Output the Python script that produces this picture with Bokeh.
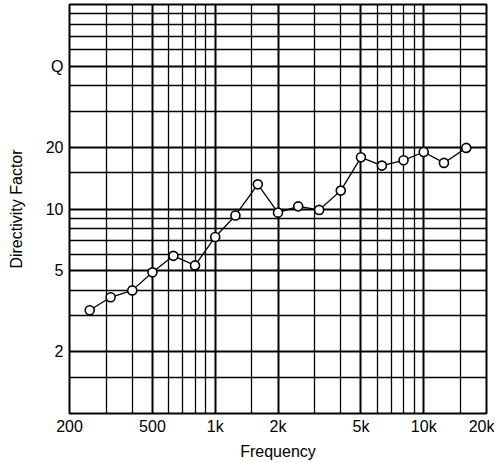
from bokeh.plotting import figure
from bokeh.models import FixedTicker, ColumnDataSource
from bokeh.embed import file_html
from bokeh.resources import INLINE

# Data (1/3-octave centre frequencies and directivity factor)
freq_hz = [250, 315, 400, 500, 630, 800, 1000, 1250, 1600, 2000, 2500,
           3150, 4000, 5000, 6300, 8000, 10000, 12500, 16000]
directivity = [3.2, 3.7, 4.0, 4.9, 5.9, 5.3, 7.3, 9.3, 13.2, 9.6, 10.3,
               9.9, 12.3, 17.9, 16.3, 17.3, 19.0, 16.8, 19.9]

x_tick_values = [200, 500, 1000, 2000, 5000, 10000, 20000]
x_tick_labels = ["200", "500", "1k", "2k", "5k", "10k", "20k"]
x_minor_grid = [300, 400, 600, 700, 800, 900, 1500, 3000, 4000,
                6000, 7000, 8000, 9000, 15000]

y_tick_values = [2, 5, 10, 20, 50]
y_tick_labels = ["2", "5", "10", "20", "Q"]
y_minor_grid = [1.5, 3, 4, 6, 7, 8, 9, 15, 30, 40, 60, 70, 80, 90]

FONT = "Liberation Sans"

source = ColumnDataSource(dict(f=freq_hz, q=directivity))

p = figure(x_axis_type="log", y_axis_type="log",
           x_range=(200, 20000), y_range=(1, 100),
           frame_width=417, frame_height=409,
           min_border_left=69, min_border_right=8,
           min_border_top=4, min_border_bottom=44,
           output_backend="svg", toolbar_location=None,
           background_fill_color="white", border_fill_color="white")

p.outline_line_color = "black"
p.outline_line_width = 2
p.outline_line_alpha = 1

# Axes
p.xaxis.ticker = FixedTicker(ticks=x_tick_values)
p.xaxis.major_label_overrides = {v: l for v, l in zip(x_tick_values, x_tick_labels)}
p.yaxis.ticker = FixedTicker(ticks=y_tick_values)
p.yaxis.major_label_overrides = {v: l for v, l in zip(y_tick_values, y_tick_labels)}

for ax in (p.xaxis, p.yaxis):
    ax.axis_line_color = None
    ax.major_tick_line_color = None
    ax.minor_tick_line_color = None
    ax.major_tick_out = 0
    ax.major_tick_in = 0
    ax.minor_tick_out = 0
    ax.minor_tick_in = 0
    ax.major_label_text_font = FONT
    ax.major_label_text_font_size = "16px"
    ax.major_label_text_color = "black"
    ax.axis_label_text_font = FONT
    ax.axis_label_text_font_size = "16px"
    ax.axis_label_text_font_style = "normal"
    ax.axis_label_text_color = "black"

p.xaxis.axis_label = "Frequency"
p.xaxis.major_label_standoff = 4
p.xaxis.axis_label_standoff = 5
p.yaxis.axis_label = "Directivity Factor"
p.yaxis.major_label_standoff = 6
p.yaxis.axis_label_standoff = 18

# Grids
p.xgrid.ticker = FixedTicker(ticks=x_tick_values, minor_ticks=x_minor_grid)
p.ygrid.ticker = FixedTicker(ticks=y_tick_values, minor_ticks=y_minor_grid)
for g in (p.xgrid, p.ygrid):
    g.grid_line_color = "black"
    g.grid_line_alpha = 1
    g.grid_line_width = 2
    g.minor_grid_line_color = "black"
    g.minor_grid_line_alpha = 1
    g.minor_grid_line_width = 1.3

# Data
p.line("f", "q", source=source, line_color="black", line_width=1.3)
p.scatter("f", "q", source=source, marker="circle", size=9,
          fill_color="white", line_color="black", line_width=1.6)

open("out.html", "w").write(file_html(p, INLINE))
